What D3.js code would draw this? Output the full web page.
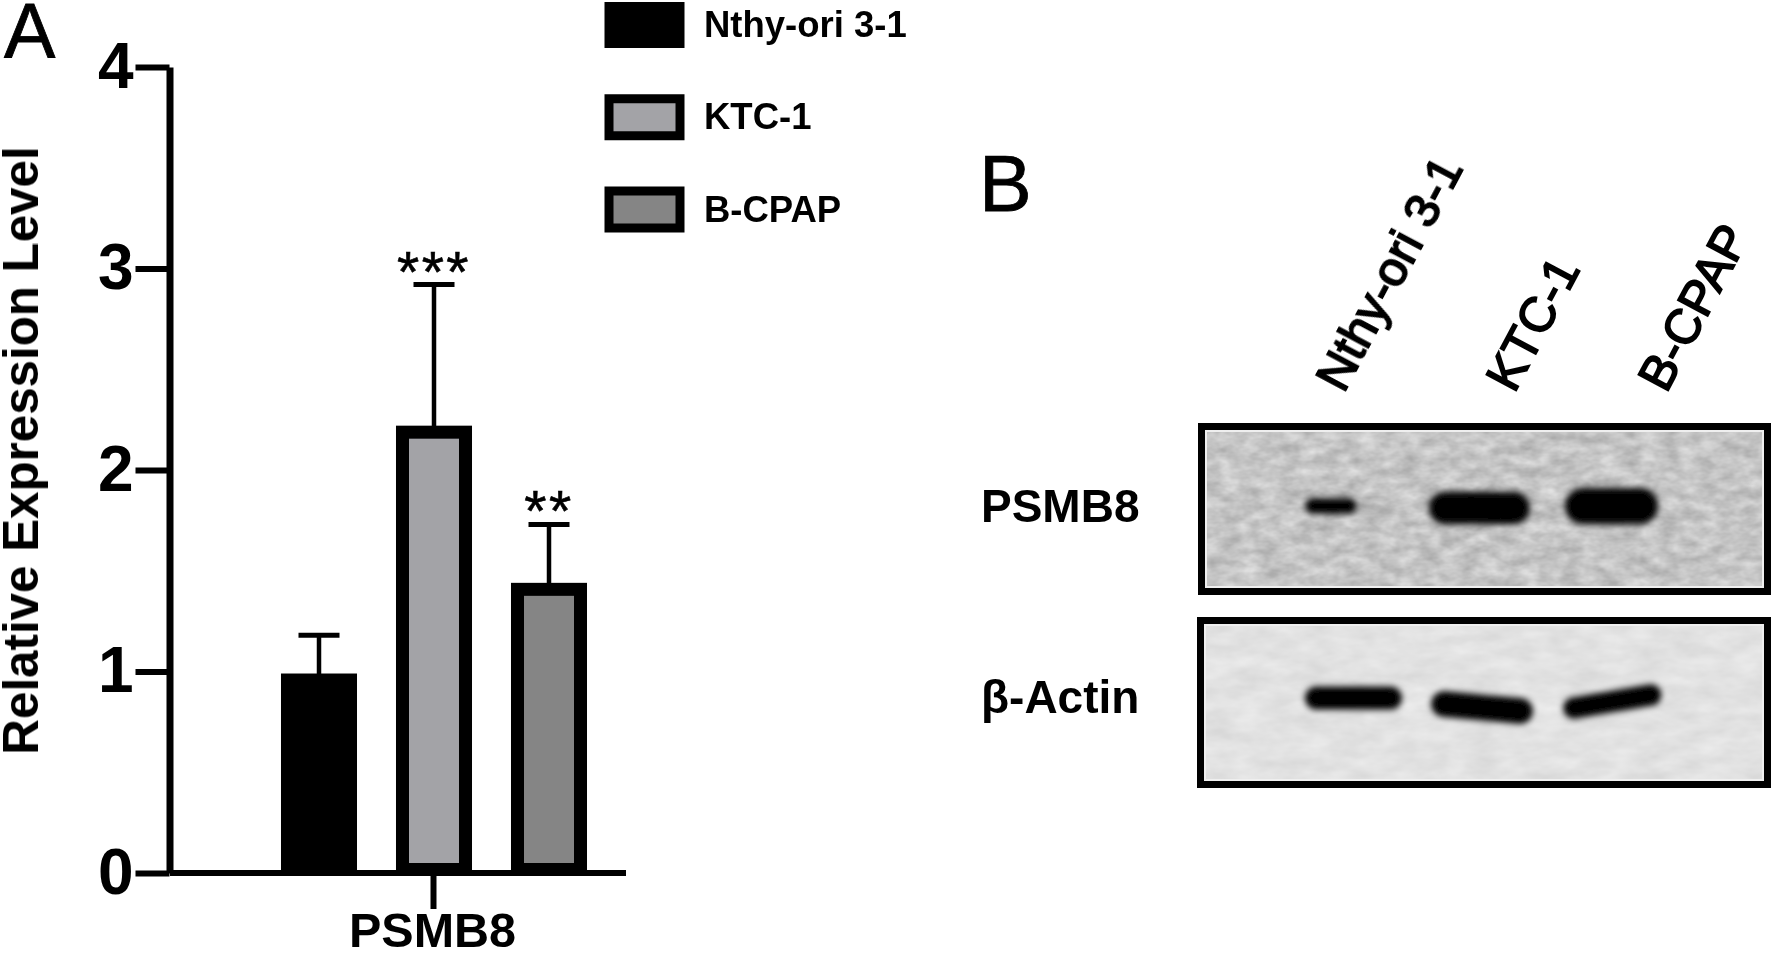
<!DOCTYPE html>
<html>
<head>
<meta charset="utf-8">
<script src="https://cdn.jsdelivr.net/npm/d3@7"></script>
<style>
  html, body { margin: 0; padding: 0; background: #fff; overflow: hidden; }
  svg { display: block; }
  text { font-family: "Liberation Sans", Arial, sans-serif; fill: #000; }
</style>
</head>
<body>
<svg id="chart" width="1772" height="956"></svg>
<script>
// panel A values
const cellLines = ["Nthy-ori 3-1", "KTC-1", "B-CPAP"];
const expression = [0.99, 2.22, 1.44];
const expressionErr = [0.19, 0.7, 0.29];
const significance = ["", "***", "**"];
const barFills = ["#000000", "#a3a3a7", "#858585"];
const yTicks = [0, 1, 2, 3, 4];

// panel B, band extents in % of membrane width / height
const blotNames = ["PSMB8", "β-Actin"];
const psmb8Start = [18.7, 27.7, 40.3, 64.0];
const psmb8End = [27.7, 33.8, 57.9, 80.3];
const psmb8Left = [48.3, 49.5, 49.4, 48.3];
const psmb8Right = [48.3, 49.5, 49.4, 48.3];
const psmb8Thick = [9, 4, 19, 21];
const psmb8Dark = [1, 0.18, 1, 1];
const actinStart = [18.8, 40.8, 63.8];
const actinEnd = [35.7, 58.5, 80.9];
const actinLeft = [47.4, 50.9, 53.2];
const actinRight = [47.4, 55, 45.6];
const actinThick = [13.5, 15, 12.5];
const actinDark = [1, 1, 1];
const laneLabelPos = [25.4, 55.2, 81.7];

const svg = d3.select("#chart");
const defs = svg.append("defs");

defs.append("filter").attr("id", "soft")
  .attr("filterUnits", "userSpaceOnUse")
  .attr("x", 0).attr("y", 0).attr("width", 1772).attr("height", 956)
  .append("feGaussianBlur").attr("stdDeviation", 0.7);

// user space here, a flat line has an empty bounding box
defs.append("filter").attr("id", "bandBlur")
  .attr("filterUnits", "userSpaceOnUse")
  .attr("x", 1190).attr("y", 420).attr("width", 582).attr("height", 370)
  .append("feGaussianBlur").attr("stdDeviation", 3.4);

function noise(id, freq, seed, gain, base) {
  const f = defs.append("filter").attr("id", id)
    .attr("x", 0).attr("y", 0).attr("width", "100%").attr("height", "100%")
    .attr("color-interpolation-filters", "sRGB");
  f.append("feTurbulence").attr("type", "fractalNoise")
    .attr("baseFrequency", freq).attr("numOctaves", 3).attr("seed", seed);
  f.append("feColorMatrix").attr("type", "matrix")
    .attr("values", `${gain} 0 0 0 ${base} ${gain} 0 0 0 ${base} ${gain} 0 0 0 ${base} 0 0 0 0 1`);
}
noise("grainA", "0.05 0.09", 4, 0.28, 0.63);
noise("grainB", "0.03 0.07", 9, 0.1, 0.835);

const root = svg.append("g").attr("filter", "url(#soft)");

/* ---------- panel A ---------- */
const y = d3.scaleLinear().domain([0, 4]).range([873, 67]);
const x = d3.scaleBand().domain(cellLines).range([261.5, 606.5])
  .paddingInner(0.452).paddingOuter(0.226);
const barStroke = 13;

const a = root.append("g");

const barG = a.selectAll("g.bar").data(cellLines).join("g").attr("class", "bar");

// error bars go behind the bars
barG.append("line")
  .attr("x1", (d) => x(d) + x.bandwidth() / 2)
  .attr("x2", (d) => x(d) + x.bandwidth() / 2)
  .attr("y1", (d, i) => y(expression[i]) + 2)
  .attr("y2", (d, i) => y(expression[i] + expressionErr[i]))
  .attr("stroke", "#000").attr("stroke-width", 4.5);
barG.append("line")
  .attr("x1", (d) => x(d) + x.bandwidth() / 2 - 20.5)
  .attr("x2", (d) => x(d) + x.bandwidth() / 2 + 20.5)
  .attr("y1", (d, i) => y(expression[i] + expressionErr[i]))
  .attr("y2", (d, i) => y(expression[i] + expressionErr[i]))
  .attr("stroke", "#000").attr("stroke-width", 5);

barG.append("rect")
  .attr("x", (d) => x(d))
  .attr("width", x.bandwidth())
  .attr("y", (d, i) => y(expression[i]) + barStroke / 2)
  .attr("height", (d, i) => y(0) - y(expression[i]) - barStroke + 3)
  .attr("fill", (d, i) => barFills[i])
  .attr("stroke", "#000")
  .attr("stroke-width", barStroke);

barG.append("text")
  .attr("x", (d) => x(d) + x.bandwidth() / 2)
  .attr("y", (d, i) => y(expression[i] + expressionErr[i]))
  .attr("text-anchor", "middle")
  .attr("font-size", 57)
  .attr("letter-spacing", 2.5)
  .attr("dy", 7)
  .attr("stroke", "#000").attr("stroke-width", 0.6)
  .text((d, i) => significance[i]);

// axes
const yAxis = d3.axisLeft(y).tickValues(yTicks).tickFormat(d3.format("d"))
  .tickSize(34).tickSizeOuter(0).tickPadding(2);
const yG = a.append("g").attr("transform", "translate(169.5,0)").call(yAxis);
yG.select(".domain").attr("stroke", "#000").attr("stroke-width", 7);
yG.selectAll(".tick line").attr("stroke", "#000").attr("stroke-width", 6);
yG.selectAll(".tick text").attr("font-size", 64).attr("font-weight", "bold")
  .style("font-family", '"Liberation Sans", Arial, sans-serif').attr("fill", "#000");

const xGroup = d3.scalePoint().domain(["PSMB8"]).range([240, 626]).padding(0.5);
const xAxis = d3.axisBottom(xGroup).tickSize(36).tickSizeOuter(0).tickPadding(4);
const xG = a.append("g").attr("transform", `translate(0,${y(0)})`).call(xAxis);
xG.select(".domain").attr("d", "M170,0H626").attr("stroke", "#000").attr("stroke-width", 6);
xG.selectAll(".tick line").attr("stroke", "#000").attr("stroke-width", 6);
xG.selectAll(".tick text").attr("font-size", 48.5).attr("font-weight", "bold").attr("dx", -1)
  .style("font-family", '"Liberation Sans", Arial, sans-serif').attr("fill", "#000");

a.append("text")
  .attr("transform", "translate(38,450.5) rotate(-90)")
  .attr("text-anchor", "middle")
  .attr("font-size", 49.3)
  .attr("font-weight", "bold")
  .text("Relative Expression Level");

// legend
const legendY = d3.scalePoint().domain(cellLines).range([25, 209.5]);
const legend = a.selectAll("g.key").data(cellLines).join("g").attr("class", "key")
  .attr("transform", (d) => `translate(0,${legendY(d)})`);
legend.append("rect")
  .attr("x", 609).attr("y", -18.5).attr("width", 71).attr("height", 37)
  .attr("fill", (d, i) => barFills[i])
  .attr("stroke", "#000").attr("stroke-width", 9);
legend.append("text")
  .attr("x", 704).attr("y", 12)
  .attr("font-size", 36.5).attr("font-weight", "bold")
  .text((d) => d);

a.append("text").attr("x", 4).attr("y", 58).attr("font-size", 77)
  .attr("stroke", "#000").attr("stroke-width", 0.8).text("A");

/* ---------- panel B ---------- */
const b = root.append("g");
b.append("text").attr("x", 979).attr("y", 211).attr("font-size", 79)
  .attr("stroke", "#000").attr("stroke-width", 0.8).text("B");

const blots = [
  { name: blotNames[0], x0: 1198, x1: 1771, y0: 423, y1: 595, grain: "grainA", labelY: 522,
    start: psmb8Start, end: psmb8End, left: psmb8Left, right: psmb8Right, thick: psmb8Thick, dark: psmb8Dark },
  { name: blotNames[1], x0: 1197, x1: 1771, y0: 617, y1: 788, grain: "grainB", labelY: 713,
    start: actinStart, end: actinEnd, left: actinLeft, right: actinRight, thick: actinThick, dark: actinDark },
];

const border = 7;
const bandLine = d3.line();

blots.forEach((blot) => {
  const bx = d3.scaleLinear().domain([0, 100]).range([blot.x0, blot.x1]);
  const by = d3.scaleLinear().domain([0, 100]).range([blot.y0, blot.y1]);
  const g = b.append("g");

  g.append("rect")
    .attr("x", blot.x0).attr("y", blot.y0)
    .attr("width", blot.x1 - blot.x0).attr("height", blot.y1 - blot.y0)
    .attr("filter", `url(#${blot.grain})`);

  g.selectAll("path.band").data(blot.start).join("path")
    .attr("class", "band")
    .attr("fill", "none")
    .attr("stroke", "#000")
    .attr("stroke-linecap", "round")
    .attr("filter", "url(#bandBlur)")
    .attr("stroke-width", (d, i) => by(blot.thick[i]) - by(0))
    .attr("opacity", (d, i) => blot.dark[i])
    .attr("d", (d, i) => {
      const r = (by(blot.thick[i]) - by(0)) / 2;
      return bandLine([
        [bx(d) + r, by(blot.left[i])],
        [bx(blot.end[i]) - r, by(blot.right[i])],
      ]);
    });

  // thin light edge inside the frame
  g.append("rect")
    .attr("x", blot.x0 + border + 1).attr("y", blot.y0 + border + 1)
    .attr("width", blot.x1 - blot.x0 - 2 * border - 2)
    .attr("height", blot.y1 - blot.y0 - 2 * border - 2)
    .attr("fill", "none").attr("stroke", "#efefef").attr("stroke-width", 2);

  g.append("rect")
    .attr("x", blot.x0 + border / 2).attr("y", blot.y0 + border / 2)
    .attr("width", blot.x1 - blot.x0 - border)
    .attr("height", blot.y1 - blot.y0 - border)
    .attr("fill", "none").attr("stroke", "#000").attr("stroke-width", border);

  g.append("text")
    .attr("x", 981).attr("y", blot.labelY)
    .attr("font-size", 46).attr("font-weight", "bold")
    .text(blot.name);
});

const laneX = d3.scaleLinear().domain([0, 100]).range([1198, 1771]);
b.selectAll("text.lane").data(cellLines).join("text")
  .attr("class", "lane")
  .attr("transform", (d, i) => `translate(${laneX(laneLabelPos[i])},394) rotate(-62)`)
  .attr("font-size", 49)
  .attr("stroke", "#000")
  .attr("stroke-width", 1.8)
  .text((d) => d);
</script>
</body>
</html>
